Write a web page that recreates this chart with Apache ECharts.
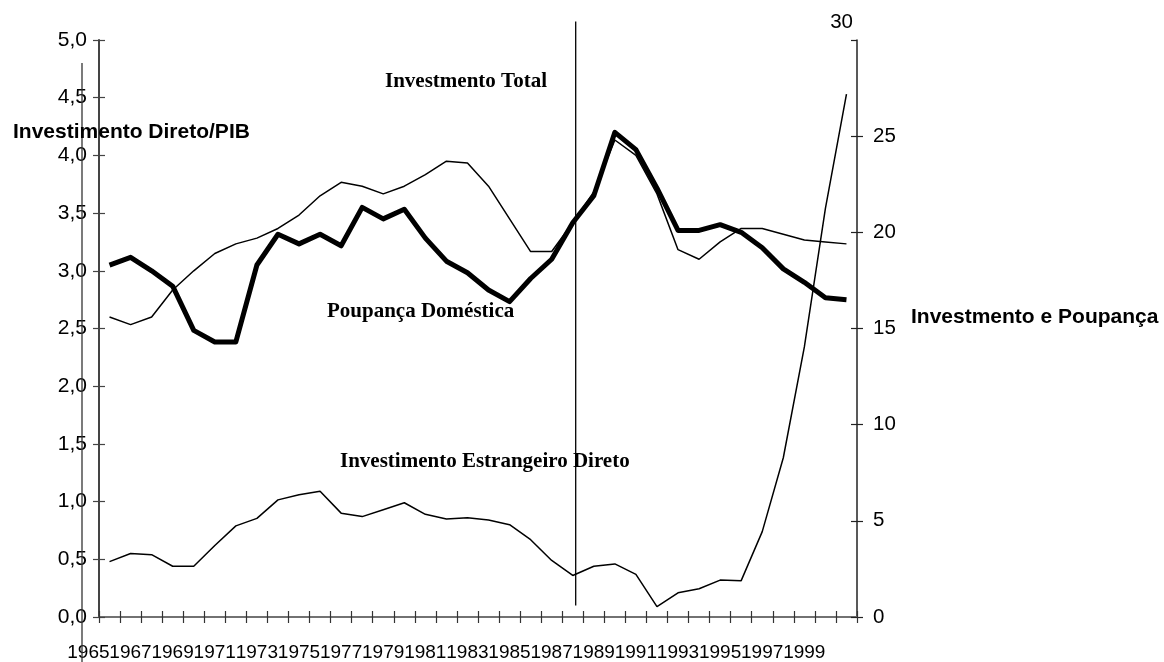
<!DOCTYPE html>
<html>
<head>
<meta charset="utf-8">
<script src="https://cdn.jsdelivr.net/npm/echarts@6/dist/echarts.min.js"></script>
<style>
  html, body { margin: 0; padding: 0; background: #fff; }
  #chart { width: 1164px; height: 662px; }
</style>
</head>
<body>
<div id="chart"></div>
<script>
// ---- data ----
var years = [];
for (var y = 1965; y <= 2000; y++) years.push(String(y));

// Investimento Total (% do PIB, eixo direito)
var investTotal = [15.6, 15.2, 15.6, 17.0, 18.0, 18.9, 19.4, 19.7, 20.2, 20.9, 21.9, 22.6,
                   22.4, 22.0, 22.4, 23.0, 23.7, 23.6, 22.4, 20.7, 19.0, 19.0, 20.5, 22.1,
                   24.8, 24.0, 22.0, 19.1, 18.6, 19.5, 20.2, 20.2, 19.9, 19.6, 19.5, 19.4];
// Poupança Doméstica (% do PIB, eixo direito)
var poupanca = [18.3, 18.7, 18.0, 17.2, 14.9, 14.3, 14.3, 18.3, 19.9, 19.4, 19.9, 19.3,
                21.3, 20.7, 21.2, 19.7, 18.5, 17.9, 17.0, 16.4, 17.6, 18.6, 20.5, 21.9,
                25.2, 24.3, 22.3, 20.1, 20.1, 20.4, 20.0, 19.2, 18.1, 17.4, 16.6, 16.5];
// Investimento Estrangeiro Direto / PIB (eixo esquerdo)
var ied = [0.48, 0.55, 0.54, 0.44, 0.44, 0.62, 0.79, 0.855, 1.015, 1.06, 1.09, 0.90,
           0.87, 0.93, 0.99, 0.89, 0.85, 0.86, 0.84, 0.80, 0.67, 0.49, 0.36, 0.44,
           0.46, 0.37, 0.09, 0.21, 0.245, 0.32, 0.315, 0.74, 1.38, 2.34, 3.54, 4.53];

var leftTicks = { min: 0, max: 5, interval: 0.5 };
var rightTicks = { min: 0, max: 30, interval: 5 };
var markYear = '1987';

var labels = {
  leftTitle: 'Investimento Direto/PIB',
  rightTitle: 'Investmento e Poupança',
  total: 'Investmento Total',
  poupanca: 'Poupança Doméstica',
  ied: 'Investimento Estrangeiro Direto'
};

// ---- chart ----
var SANS = '"Liberation Sans", Arial, sans-serif';
var SERIF = '"Liberation Serif", "Times New Roman", serif';
var chart = echarts.init(document.getElementById('chart'), null, { renderer: 'canvas' });

function fmtComma(v) { return v.toFixed(1).replace('.', ','); }

var option = {
  animation: false,
  backgroundColor: '#fff',
  grid: { left: 99, right: 307, top: 40, bottom: 42.5, containLabel: false },
  xAxis: [
    {
      type: 'category', data: years, position: 'bottom', boundaryGap: true,
      axisLine: { show: true, lineStyle: { color: '#333', width: 2 } },
      axisTick: { show: true, interval: 0, length: 6, inside: false, lineStyle: { color: '#333', width: 1.2 } },
      axisLabel: { interval: 1, align: 'right', margin: 26, fontSize: 19, fontFamily: SANS, color: '#000', hideOverlap: false },
      splitLine: { show: false }
    },
    {
      type: 'category', data: years, position: 'bottom', boundaryGap: true,
      axisLine: { show: false },
      axisTick: { show: true, interval: 0, length: 6, inside: true, lineStyle: { color: '#333', width: 1.2 } },
      axisLabel: { show: false }, splitLine: { show: false }
    },
    {
      type: 'category', data: years, position: 'top', boundaryGap: true,
      axisLine: { show: true, lineStyle: { color: '#888', width: 1.5 } },
      axisTick: { show: false }, axisLabel: { show: false }, splitLine: { show: false }
    }
  ],
  yAxis: [
    {
      type: 'value', position: 'left', min: leftTicks.min, max: leftTicks.max, interval: leftTicks.interval,
      axisLine: { show: true, lineStyle: { color: '#444', width: 2 } },
      axisTick: { show: true, length: 6, inside: false, lineStyle: { color: '#444', width: 1.2 } },
      axisLabel: { formatter: fmtComma, fontSize: 21, fontFamily: SANS, color: '#000', margin: 12 },
      splitLine: { show: false }
    },
    {
      type: 'value', position: 'right', min: rightTicks.min, max: rightTicks.max, interval: rightTicks.interval,
      axisLine: { show: true, lineStyle: { color: '#222', width: 1.5 } },
      axisTick: { show: true, length: 6, inside: false, lineStyle: { color: '#222', width: 1.2 } },
      axisLabel: { fontSize: 20.5, fontFamily: SANS, color: '#000', margin: 16, showMaxLabel: false },
      splitLine: { show: false }
    },
    {
      type: 'value', position: 'left', min: leftTicks.min, max: leftTicks.max, interval: leftTicks.interval,
      axisLine: { show: false },
      axisTick: { show: true, length: 6, inside: true, lineStyle: { color: '#444', width: 1.2 } },
      axisLabel: { show: false }, splitLine: { show: false }
    },
    {
      type: 'value', position: 'right', min: rightTicks.min, max: rightTicks.max, interval: rightTicks.interval,
      axisLine: { show: false },
      axisTick: { show: true, length: 6, inside: true, lineStyle: { color: '#222', width: 1.2 } },
      axisLabel: { show: false }, splitLine: { show: false }
    }
  ],
  series: [
    {
      name: labels.total, type: 'line', xAxisIndex: 0, yAxisIndex: 1, data: investTotal,
      symbol: 'none', smooth: false, z: 3,
      lineStyle: { color: '#000', width: 1.5 }
    },
    {
      name: labels.poupanca, type: 'line', xAxisIndex: 0, yAxisIndex: 1, data: poupanca,
      symbol: 'none', smooth: false, z: 4,
      lineStyle: { color: '#000', width: 5, join: 'round' }
    },
    {
      name: labels.ied, type: 'line', xAxisIndex: 0, yAxisIndex: 0, data: ied,
      symbol: 'none', smooth: false, z: 3,
      lineStyle: { color: '#000', width: 1.5 }
    }
  ]
};
chart.setOption(option);

// ---- annotations / reference line ----
var catW = chart.convertToPixel({ xAxisIndex: 0 }, years[1]) - chart.convertToPixel({ xAxisIndex: 0 }, years[0]);
var xMark = chart.convertToPixel({ xAxisIndex: 0 }, markYear) + 0.14 * catW;
var yMarkTop = chart.convertToPixel({ yAxisIndex: 0 }, 5.16);
var yMarkBot = chart.convertToPixel({ yAxisIndex: 0 }, 0.1);
var rightX = chart.convertToPixel({ xAxisIndex: 0 }, years[years.length - 1]) + catW / 2;
var y30 = chart.convertToPixel({ yAxisIndex: 1 }, rightTicks.max);

function txt(str, x, y, font, size, align) {
  return {
    type: 'text', x: x, y: y, z: 10,
    style: { text: str, fontFamily: font, fontSize: size, fontWeight: 'bold', fill: '#000',
             align: align || 'left', verticalAlign: 'middle' }
  };
}

chart.setOption({
  graphic: [
    { type: 'line', z: 5, shape: { x1: xMark, y1: yMarkTop, x2: xMark, y2: yMarkBot },
      style: { stroke: '#000', lineWidth: 1.3 } },
    { type: 'line', z: 5, shape: { x1: 82, y1: 63, x2: 82, y2: 662 },
      style: { stroke: '#333', lineWidth: 1.3 } },
    {
      type: 'text', x: rightX - 4, y: y30 - 18, z: 10,
      style: { text: String(rightTicks.max), fontFamily: SANS, fontSize: 20.5, fill: '#000',
               align: 'right', verticalAlign: 'middle' }
    },
    txt(labels.leftTitle, 13, 132, SANS, 21, 'left'),
    txt(labels.rightTitle, 911, 317, SANS, 21, 'left'),
    txt(labels.total, 385, 82, SERIF, 21, 'left'),
    txt(labels.poupanca, 327, 312, SERIF, 21, 'left'),
    txt(labels.ied, 340, 462, SERIF, 21, 'left')
  ]
});
</script>
</body>
</html>
